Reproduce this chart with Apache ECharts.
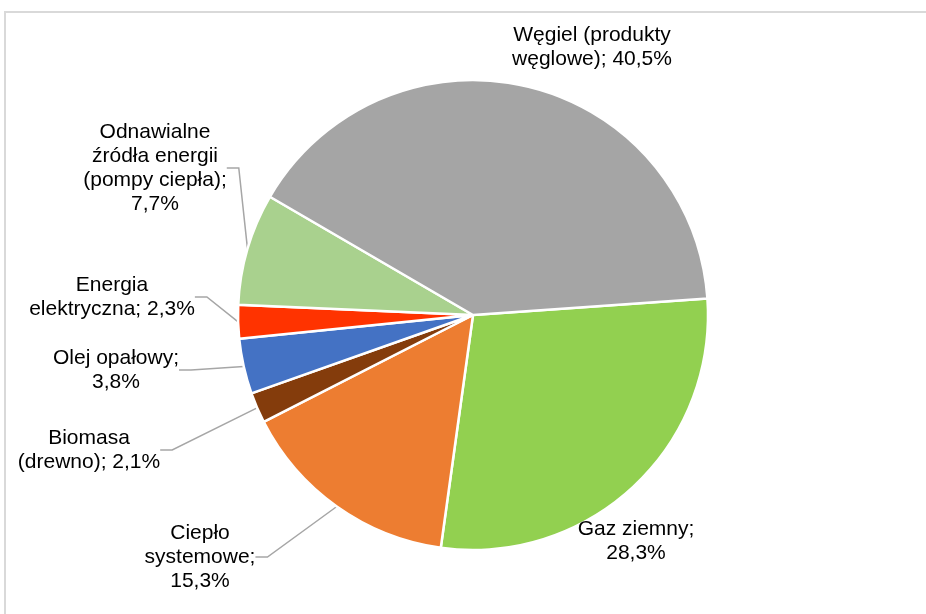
<!DOCTYPE html>
<html>
<head>
<meta charset="utf-8">
<script src="https://cdn.jsdelivr.net/npm/echarts@6/dist/echarts.min.js"></script>
<style>
  html, body { margin: 0; padding: 0; background: #fff; }
  #frame { position: absolute; left: 4px; top: 11px; width: 930px; height: 610px;
           border-top: 2px solid #d9d9d9; border-left: 2px solid #d9d9d9; }
  #main { position: absolute; left: 0; top: 0; width: 926px; height: 614px; }
</style>
</head>
<body>
<div id="frame"></div>
<div id="main"></div>
<script>
  // dane (udział w %), kolejność zgodnie z ruchem wskazówek zegara
  var categories = ['Gaz ziemny', 'Ciepło systemowe', 'Biomasa (drewno)', 'Olej opałowy',
                    'Energia elektryczna', 'Odnawialne źródła energii (pompy ciepła)', 'Węgiel (produkty węglowe)'];
  var values = [28.3, 15.3, 2.1, 3.8, 2.3, 7.7, 40.5];
  var colors = ['#92D050', '#ED7D31', '#843C0C', '#4472C4', '#FF3300', '#A9D18E', '#A5A5A5'];
  // tekst etykiet z łamaniem wierszy, {v} = wartość
  var labelFormats = [
    'Gaz ziemny;\n{v}',
    'Ciepło\nsystemowe;\n{v}',
    'Biomasa\n(drewno); {v}',
    'Olej opałowy;\n{v}',
    'Energia\nelektryczna; {v}',
    'Odnawialne\nźródła energii\n(pompy ciepła);\n{v}',
    'Węgiel (produkty\nwęglowe); {v}'
  ];

  // położenie etykiet (środek tekstu) i linie odniesienia
  var labelPos = [[636, 541], [200, 557], [89, 450], [116, 370], [112, 297], [155, 168], [592, 47]];
  var showLine = [false, true, true, true, true, true, false];

  var chart = echarts.init(document.getElementById('main'));

  var data = categories.map(function (c, i) {
    return {
      name: c,
      value: values[i],
      itemStyle: { color: colors[i] },
      labelLine: { show: showLine[i] }
    };
  });

  chart.setOption({
    animation: false,
    textStyle: { fontFamily: 'Liberation Sans, Arial, sans-serif' },
    series: [
      {
        type: 'pie',
        center: [473, 315],
        radius: 235,
        startAngle: 4,
        clockwise: true,
        avoidLabelOverlap: false,
        itemStyle: { borderColor: '#fff', borderWidth: 2.5 },
        label: {
          show: true,
          position: 'outside',
          color: '#000',
          fontSize: 21,
          lineHeight: 24,
          align: 'center',
          fontFamily: 'Liberation Sans, Arial, sans-serif',
          formatter: function (p) {
            var v = values[p.dataIndex].toFixed(1).replace('.', ',') + '%';
            return labelFormats[p.dataIndex].replace('{v}', v);
          }
        },
        labelLine: {
          length: 10,
          length2: 12,
          lineStyle: { color: '#a6a6a6', width: 1.5 }
        },
        labelLayout: function (params) {
          var p = labelPos[params.dataIndex];
          return { x: p[0], y: p[1], align: 'center', verticalAlign: 'middle' };
        },
        emphasis: { disabled: true },
        data: data
      }
    ]
  });
</script>
</body>
</html>
